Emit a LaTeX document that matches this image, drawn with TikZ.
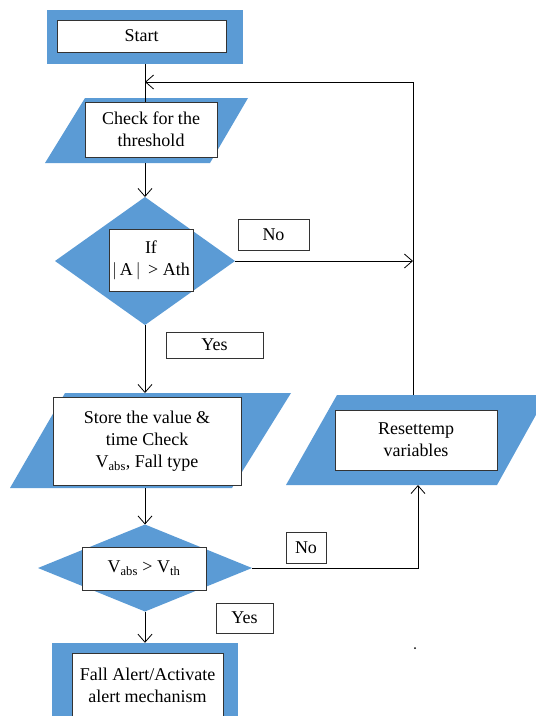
\documentclass[tikz,border=0pt]{standalone}
\usepackage{fontspec}
\setmainfont{Liberation Serif}
\usetikzlibrary{arrows.meta,shapes.geometric,calc}
\definecolor{flowblue}{HTML}{5B9BD5}
\definecolor{edge}{HTML}{333333}

\begin{document}
\begin{tikzpicture}[x=1pt,y=-1pt,
  inbox/.style={draw=edge,fill=white,line width=.8pt,align=center,inner sep=0pt,font=\fontsize{18}{22}\selectfont},
  tag/.style={draw=edge,fill=white,line width=.8pt,inner sep=0pt,font=\fontsize{18}{22}\selectfont},
  decide/.style={diamond,fill=flowblue,inner sep=0pt,outer sep=0pt},
  flow/.style={draw=black,line width=.8pt},
  flowarr/.style={flow,-{Straight Barb[length=8pt,width=14pt]}}]
\useasboundingbox (0,0) rectangle (536,716);
\clip (0,0) rectangle (536,716);

% start
\node[fill=flowblue,minimum width=196pt,minimum height=54pt,inner sep=0pt] (startbg) at (145,37) {};
\node[inbox,minimum width=169pt,minimum height=32pt] (start) at (141.5,36) {Start};

% threshold check
\fill[flowblue] (85,98) -- (248,98) -- (210,163) -- (45,163) -- cycle;
\node[inbox,minimum width=132pt,minimum height=55pt] (check) at (151,129.5) {Check for the\\threshold};
\coordinate (checkout) at (145,163);
\coordinate (loop) at (145,82);

% first decision
\node[decide,minimum width=180pt,minimum height=128pt] (ifa) at (145,261) {};
\node[inbox,minimum width=84pt,minimum height=62pt] (ifatext) at (151,260) {If\\$\bigl|$\,A\,$\bigr|$ \,> Ath};

% store values
\fill[flowblue] (65,393) -- (291,393) -- (232,488) -- (10,488) -- cycle;
\node[inbox,minimum width=188pt,minimum height=88pt] (store) at (147,441) {Store the value \&\\time Check\\V\textsubscript{abs}, Fall type};
\coordinate (storein) at (145,393);
\coordinate (storeout) at (145,488);

% reset
\fill[flowblue] (337,395) -- (547,395) -- (497,485) -- (286,485) -- cycle;
\node[inbox,minimum width=162pt,minimum height=60pt] (reset) at (416,440) {Resettemp\\variables};
\coordinate (resetout) at (413,395);
\coordinate (resetin) at (418,485);

% second decision
\node[decide,minimum width=214pt,minimum height=87pt] (ifv) at (145,568) {};
\node[inbox,minimum width=124pt,minimum height=43pt] (ifvtext) at (144,568.5) {V\textsubscript{abs} > V\textsubscript{th}};

% alert
\node[fill=flowblue,minimum width=186pt,minimum height=87pt,inner sep=0pt] (alertbg) at (145,686.5) {};
\node[inbox,minimum width=151pt,minimum height=64pt] (alert) at (147.5,685) {Fall Alert/Activate\\alert mechanism};

% yes / no labels
\node[tag,minimum width=71pt,minimum height=31pt] (no1) at (273.5,234.5) {No};
\node[tag,minimum width=97pt,minimum height=26pt] (yes1) at (214.5,345) {Yes};
\node[tag,minimum width=40pt,minimum height=31pt] (no2) at (306,547.5) {No};
\node[tag,minimum width=57pt,minimum height=30pt] (yes2) at (244.5,618) {Yes};

% connectors
\draw[flow] (startbg.south) -- (startbg.south |- check.north);
\draw[flowarr] (resetout) |- (loop);
\draw[flowarr] (checkout) -- (ifa.north);
\draw[flowarr] (ifa.east) -- (ifa.east -| resetout);
\draw[flowarr] (ifa.south) -- (storein);
\draw[flowarr] (storeout) -- (ifv.north);
\draw[flowarr] (ifv.east) -| (resetin);
\draw[flowarr] (ifv.south) -- (alertbg.north);

\fill (415,648) circle (1pt);
\end{tikzpicture}
\end{document}
